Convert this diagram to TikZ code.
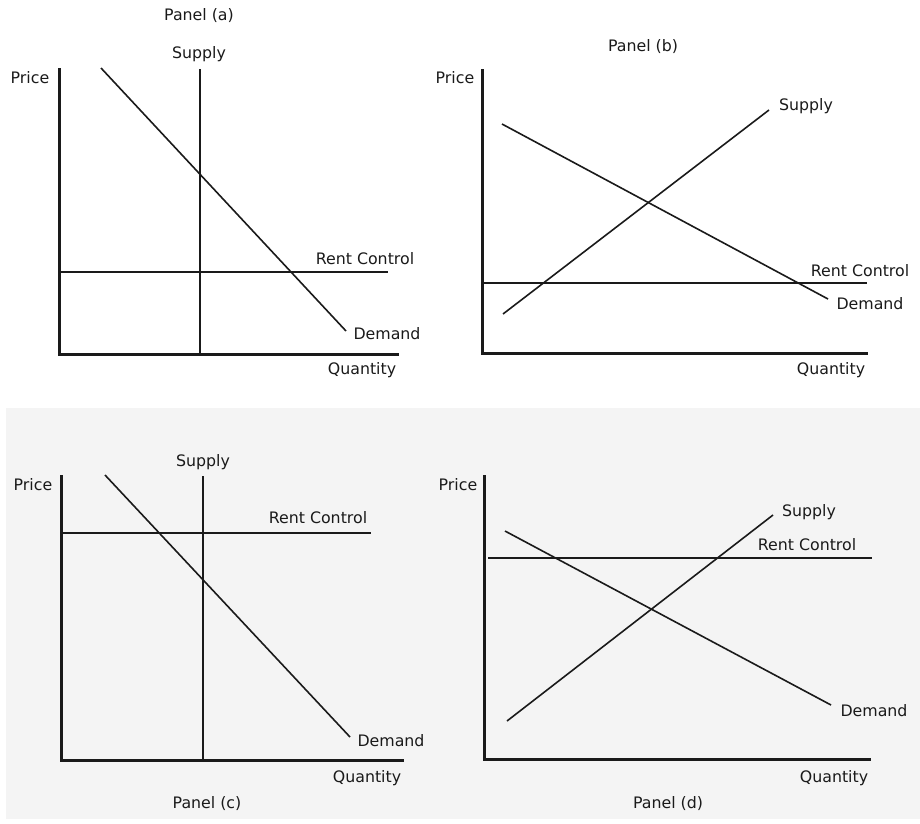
\documentclass[tikz,border=0pt]{standalone}
\usepackage{fontspec}
\setmainfont{DejaVu Sans}
\definecolor{ink}{HTML}{1A1A1A}
\definecolor{panelbg}{HTML}{F4F4F4}
\begin{document}
\begin{tikzpicture}[x=1pt,y=-1pt,
  axisline/.style={line width=3pt, draw=ink, line cap=rect},
  curve/.style={line width=1.6pt, draw=ink},
  lbl/.style={inner sep=0pt, anchor=center, text=ink, font=\fontsize{15.8}{17}\selectfont}]
\useasboundingbox (0,0) rectangle (920,823);
\fill[panelbg] (6,408) rectangle (920,819);

% ---------- Panel (a) ----------
\coordinate (aO) at (59,354);
\coordinate (aY) at (59,69);
\coordinate (aX) at (397,354);
\coordinate (aS1) at (200,69);
\coordinate (aS2) at (200,354);
\coordinate (aD1) at (101,68);
\coordinate (aD2) at (346,331);
\coordinate (aR1) at (59,272);
\coordinate (aR2) at (388,272);
\draw[curve] (aS1) -- (aS2);
\draw[curve] (aR1) -- (aR2);
\draw[curve] (aD1) -- (aD2);
\draw[axisline] (aY) -- (aO) -- (aX);
\node[lbl] (aTitle) at (199,16) {Panel (a)};
\node[lbl] (aSup) at (199,54) {Supply};
\node[lbl] (aPrice) at (30,78) {Price};
\node[lbl] (aRent) at (365,259) {Rent Control};
\node[lbl] (aDem) at (387,334) {Demand};
\node[lbl] (aQty) at (362,370) {Quantity};

% ---------- Panel (b) ----------
\coordinate (bO) at (482,353);
\coordinate (bY) at (482,70);
\coordinate (bX) at (866,353);
\coordinate (bS1) at (503,314);
\coordinate (bS2) at (769,110);
\coordinate (bD1) at (502,124);
\coordinate (bD2) at (828,299);
\coordinate (bR1) at (482,283);
\coordinate (bR2) at (867,283);
\draw[curve] (bS1) -- (bS2);
\draw[curve] (bD1) -- (bD2);
\draw[curve] (bR1) -- (bR2);
\draw[axisline] (bY) -- (bO) -- (bX);
\node[lbl] (bTitle) at (643,47) {Panel (b)};
\node[lbl] (bSup) at (806,106) {Supply};
\node[lbl] (bPrice) at (455,78) {Price};
\node[lbl] (bRent) at (860,271) {Rent Control};
\node[lbl] (bDem) at (870,304) {Demand};
\node[lbl] (bQty) at (831,370) {Quantity};

% ---------- Panel (c) ----------
\coordinate (cO) at (61,760);
\coordinate (cY) at (61,476);
\coordinate (cX) at (402,760);
\coordinate (cS1) at (203,476);
\coordinate (cS2) at (203,760);
\coordinate (cD1) at (105,475);
\coordinate (cD2) at (350,737);
\coordinate (cR1) at (61,533);
\coordinate (cR2) at (371,533);
\draw[curve] (cS1) -- (cS2);
\draw[curve] (cR1) -- (cR2);
\draw[curve] (cD1) -- (cD2);
\draw[axisline] (cY) -- (cO) -- (cX);
\node[lbl] (cSup) at (203,462) {Supply};
\node[lbl] (cPrice) at (33,485) {Price};
\node[lbl] (cRent) at (318,518) {Rent Control};
\node[lbl] (cDem) at (391,741) {Demand};
\node[lbl] (cQty) at (367,778) {Quantity};
\node[lbl] (cTitle) at (207,804) {Panel (c)};

% ---------- Panel (d) ----------
\coordinate (dO) at (484,759);
\coordinate (dY) at (484,476);
\coordinate (dX) at (869,759);
\coordinate (dS1) at (507,721);
\coordinate (dS2) at (773,515);
\coordinate (dD1) at (505,531);
\coordinate (dD2) at (831,705);
\coordinate (dR1) at (488,558);
\coordinate (dR2) at (872,558);
\draw[curve] (dS1) -- (dS2);
\draw[curve] (dD1) -- (dD2);
\draw[curve] (dR1) -- (dR2);
\draw[axisline] (dY) -- (dO) -- (dX);
\node[lbl] (dSup) at (809,512) {Supply};
\node[lbl] (dPrice) at (458,485) {Price};
\node[lbl] (dRent) at (807,545) {Rent Control};
\node[lbl] (dDem) at (874,711) {Demand};
\node[lbl] (dQty) at (834,778) {Quantity};
\node[lbl] (dTitle) at (668,804) {Panel (d)};
\end{tikzpicture}
\end{document}
